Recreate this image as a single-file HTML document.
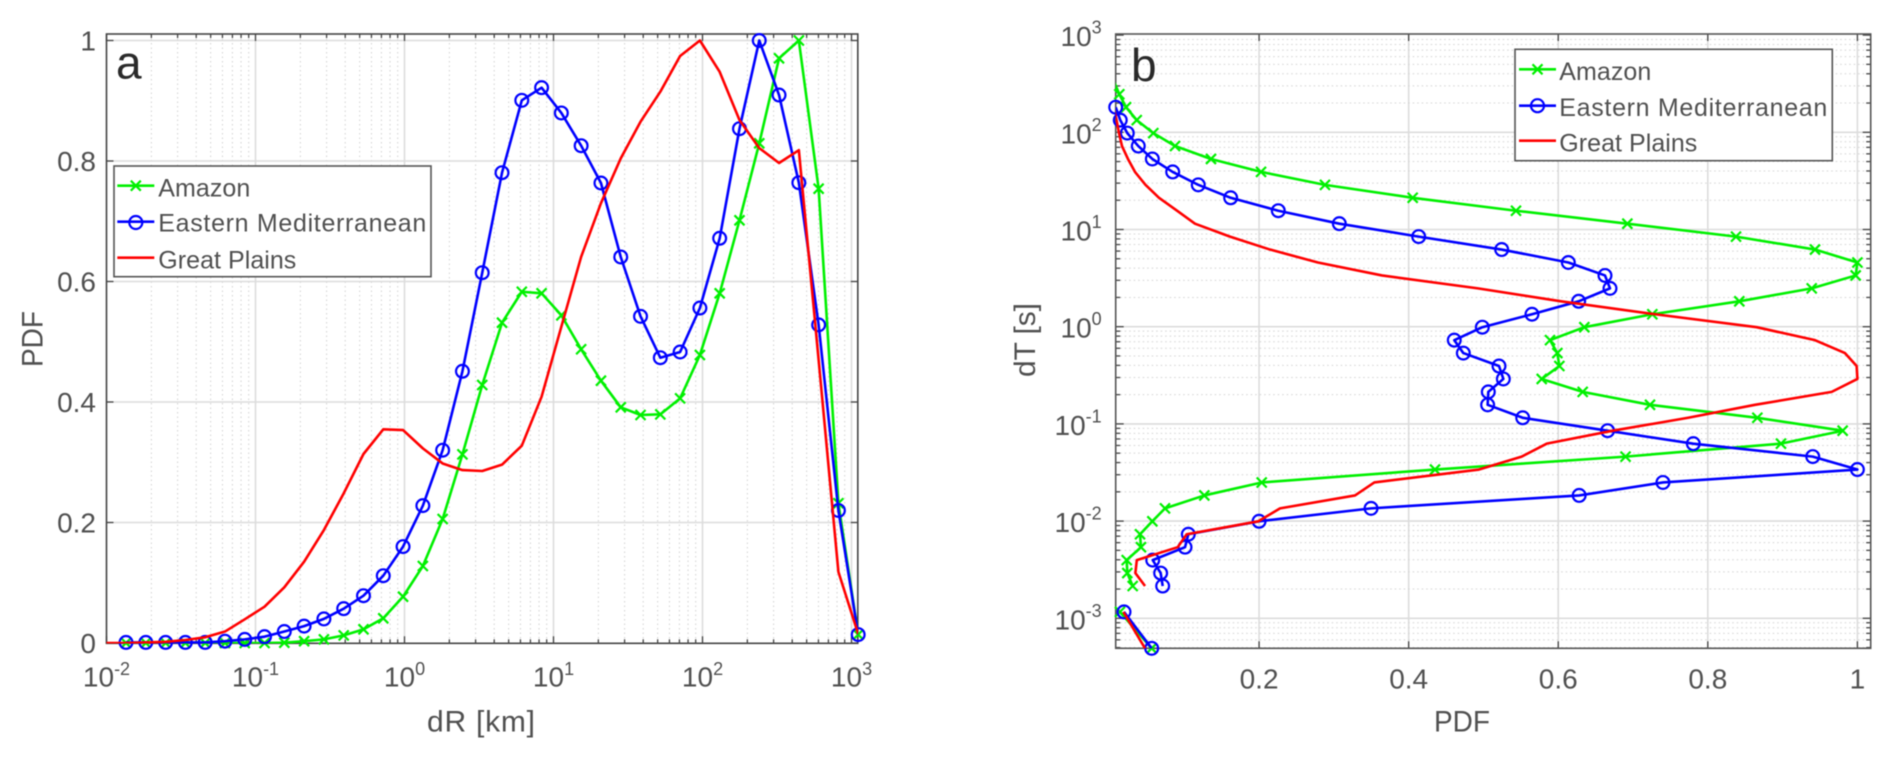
<!DOCTYPE html>
<html lang="en">
<head>
<meta charset="utf-8">
<title>PDF of dR and dT</title>
<style>
html,body{margin:0;padding:0;background:#fff;}
svg{display:block;font-family:"Liberation Sans",sans-serif;filter:blur(0.4px);}
.tick-label{font-size:28px;fill:#505050;}
.axis-title{font-size:30px;fill:#505050;}
.legend-text{font-size:25px;fill:#505050;}
.panel-letter{font-size:46px;fill:#2a2a2a;}
</style>
</head>
<body>
<svg id="fig" xmlns="http://www.w3.org/2000/svg" width="1892" height="757" viewBox="0 0 1892 757">
  <defs>
    <clipPath id="clipA"><rect x="106.5" y="34" width="751.5" height="609.5"/></clipPath>
    <clipPath id="clipB"><rect x="1115.7" y="34" width="755" height="614.5"/></clipPath>
  </defs>
  <g id="gridA"></g>
  <g id="gridB"></g>
  <g id="ticksA"></g>
  <g id="ticksB"></g>
  <rect x="106.5" y="34" width="751.3" height="609.3" fill="none" stroke="#444" stroke-width="1.6"/>
  <rect x="1115.7" y="34" width="755" height="614.3" fill="none" stroke="#555" stroke-width="1.6"/>
  <g id="seriesA"></g>
  <g id="seriesB"></g>
  <g id="labelsA"></g>
  <g id="labelsB"></g>

  <text class="panel-letter" x="116" y="78.5">a</text>
  <text class="panel-letter" x="1131" y="81">b</text>

  <text class="axis-title" x="427" y="731.5" textLength="108" lengthAdjust="spacing">dR [km]</text>
  <text class="axis-title" transform="translate(42.5,367) rotate(-90)" textLength="56" lengthAdjust="spacingAndGlyphs">PDF</text>
  <text class="axis-title" x="1434" y="731.5" textLength="56" lengthAdjust="spacingAndGlyphs">PDF</text>
  <text class="axis-title" transform="translate(1035,377) rotate(-90)" textLength="74" lengthAdjust="spacing">dT [s]</text>

  <g>
    <rect x="114" y="166" width="317" height="110.7" fill="#fff" stroke="#555" stroke-width="1.6"/>
    <g>
      <line x1="117.3" x2="154.3" y1="185.7" y2="185.7" stroke="#00f000" stroke-width="2.6"/>
      <path d="M130.8 180.7l10 10M130.8 190.7l10 -10" stroke="#00f000" stroke-width="2.2" fill="none"/>
      <text class="legend-text" x="158.3" y="196.7" textLength="92" lengthAdjust="spacing">Amazon</text>
    </g>
    <g>
      <line x1="117.3" x2="154.3" y1="221.7" y2="221.7" stroke="#0000ff" stroke-width="2.6"/>
      <circle cx="135.8" cy="222.5" r="6.5" fill="none" stroke="#0000ff" stroke-width="2.2"/>
      <text class="legend-text" x="158.3" y="231.7" textLength="268" lengthAdjust="spacing">Eastern Mediterranean</text>
    </g>
    <g>
      <line x1="117.3" x2="154.3" y1="257.7" y2="257.7" stroke="#ff0000" stroke-width="2.6"/>
      <text class="legend-text" x="158.3" y="268.3" textLength="138" lengthAdjust="spacing">Great Plains</text>
    </g>
  </g>

  <g>
    <rect x="1515" y="49.3" width="317.3" height="111.4" fill="#fff" stroke="#555" stroke-width="1.6"/>
    <g>
      <line x1="1519" x2="1556" y1="69.3" y2="69.3" stroke="#00f000" stroke-width="2.6"/>
      <path d="M1532.5 64.3l10 10M1532.5 74.3l10 -10" stroke="#00f000" stroke-width="2.2" fill="none"/>
      <text class="legend-text" x="1559.3" y="80" textLength="92" lengthAdjust="spacing">Amazon</text>
    </g>
    <g>
      <line x1="1519" x2="1556" y1="105.7" y2="105.7" stroke="#0000ff" stroke-width="2.6"/>
      <circle cx="1537.5" cy="105.7" r="6.5" fill="none" stroke="#0000ff" stroke-width="2.2"/>
      <text class="legend-text" x="1559.3" y="116" textLength="268" lengthAdjust="spacing">Eastern Mediterranean</text>
    </g>
    <g>
      <line x1="1519" x2="1556" y1="140.7" y2="140.7" stroke="#ff0000" stroke-width="2.6"/>
      <text class="legend-text" x="1559.3" y="151.7" textLength="138" lengthAdjust="spacing">Great Plains</text>
    </g>
  </g>
</svg>

<script>
// ---------- Panel a data ----------
const aXTickExponents = [-2, -1, 0, 1, 2, 3];
const aYTicks = [0, 0.2, 0.4, 0.6, 0.8, 1];
const aDR = [0.01352,0.01836,0.02493,0.03384,0.04595,0.06239,0.0847,0.115,0.1561,0.212,0.2878,0.3908,0.5306,0.7204,0.978,1.328,1.803,2.448,3.324,4.513,6.127,8.319,11.29,15.33,20.82,28.27,38.38,52.11,70.75,96.06,130.4,177.1,240.4,326.4,443.2,601.7,816.9,1109];
const aAmazon = [0,0,0,0,0,0,0,0,0.0005,0.003,0.006,0.0127,0.0227,0.041,0.0769,0.1278,0.2058,0.3131,0.4282,0.5316,0.583,0.5804,0.5439,0.4875,0.4354,0.3912,0.3784,0.3795,0.406,0.478,0.5804,0.7016,0.8294,0.9704,1,0.754,0.232,0.014];
const aEastMed = [0.001,0.001,0.001,0.001,0.001,0.003,0.006,0.0105,0.019,0.028,0.04,0.057,0.0785,0.1117,0.16,0.228,0.32,0.451,0.6146,0.7806,0.9007,0.9217,0.8797,0.8254,0.7635,0.6407,0.5422,0.4735,0.483,0.556,0.6717,0.8536,1,0.9095,0.764,0.528,0.22,0.014];
const aPlainsDR = [0.00996,0.01352,0.01836,0.02493,0.03384,0.04595,0.06239,0.0847,0.115,0.1561,0.212,0.2878,0.3908,0.5306,0.7204,0.978,1.328,1.803,2.448,3.324,4.513,6.127,8.319,11.29,15.33,20.82,28.27,38.38,52.11,70.75,96.06,130.4,177.1,240.4,326.4,443.2,601.7,816.9,1109];
const aPlains = [0,0,0.001,0.002,0.005,0.0095,0.019,0.0393,0.0603,0.0924,0.135,0.1875,0.2484,0.3137,0.3547,0.3535,0.323,0.298,0.287,0.2855,0.296,0.3275,0.4088,0.525,0.641,0.73,0.8044,0.8652,0.915,0.9743,1,0.948,0.868,0.8214,0.7967,0.818,0.47,0.118,0.015];

// ---------- Panel b data (null = gap in the curve) ----------
const bXTicks = [0.2, 0.4, 0.6, 0.8, 1];
const bYTickExponents = [-3, -2, -1, 0, 1, 2, 3];
const bDT = [0.000491,0.001164,0.00158,0.002148,0.00292,0.003968,0.005391,0.007323,0.009954,0.01352,0.01837,0.02497,0.03392,0.04608,0.06262,0.0851,0.1156,0.1571,0.2135,0.29,0.394,0.5353,0.7273,0.9883,1.343,1.825,2.479,3.368,4.576,6.219,8.45,11.48,15.6,21.2,28.8,39.13,53.17,72.23,98.13,133.4,181.2,246.2,334.5];
const bAmazon = [0.0564,0.014,null,0.031,0.0238,0.023,0.0421,0.0408,0.0573,0.0742,0.1268,0.2035,0.4352,0.69,0.8978,0.9803,0.8662,0.7227,0.6327,0.5779,0.6015,0.5988,0.589,0.6349,0.7258,0.8421,0.9389,0.9977,1,0.9433,0.8377,0.6924,0.5435,0.4054,0.2881,0.2026,0.1357,0.0876,0.0586,0.0364,0.0221,0.0131,0.006];
const bEastMed = [0.0564,0.0194,null,0.0711,0.0684,0.0578,0.101,0.1054,0.2,0.3497,0.628,0.74,1,0.9403,0.7806,0.666,0.5525,0.5056,0.5065,0.5266,0.5208,0.4731,0.461,0.4985,0.5649,0.6273,0.6692,0.6625,0.6135,0.5244,0.4134,0.3073,0.2257,0.162,0.1187,0.0845,0.0573,0.0385,0.0238,0.0144,0.0083];
const bPlains = [0.0475,0.0185,null,0.0475,0.0346,0.0365,0.0912,0.1032,0.199,0.228,0.3283,0.3541,0.4941,0.5511,0.5846,0.673,0.7737,0.8631,0.9656,1,0.999,0.9834,0.9433,0.8653,0.7296,0.6037,0.4927,0.3643,0.2787,0.2146,0.1611,0.1143,0.0903,0.0662,0.0481,0.0341,0.0247,0.0167,0.0127,0.0094,0.0055];

// ---------- Axis functions ----------
function xA(dr){ return 106.5 + 149 * (Math.log10(dr) + 2); }
function yA(v){ return 643 - 602.5 * v; }
function xB(v){ return 1109.5 + 747.9 * v; }
function yB(dt){ return 618.3 - 97.2 * (Math.log10(dt) + 3); }

const NS = 'http://www.w3.org/2000/svg';
function mk(tag, attrs, parent){
  const el = document.createElementNS(NS, tag);
  for (const k in attrs) el.setAttribute(k, attrs[k]);
  parent.appendChild(el);
  return el;
}
const gridA = document.getElementById('gridA');
const gridB = document.getElementById('gridB');
const ticksA = document.getElementById('ticksA');
const ticksB = document.getElementById('ticksB');
const labelsA = document.getElementById('labelsA');
const labelsB = document.getElementById('labelsB');
const seriesA = document.getElementById('seriesA');
const seriesB = document.getElementById('seriesB');

function gridLine(parent, x1, y1, x2, y2, minor){
  const el = mk('line', minor
    ? {x1, y1, x2, y2, stroke:'#d2d2d2', 'stroke-width':1, 'stroke-dasharray':'1.5 3'}
    : {x1, y1, x2, y2, stroke:'#dcdcdc', 'stroke-width':1.6}, parent);
  
  
}
function tickLine(parent, x1, y1, x2, y2){
  const el = mk('line', {x1, y1, x2, y2, stroke:'#444', 'stroke-width':1.3}, parent);
  
  
}

// ---------- Panel a axes ----------
const A = {l:106.5, r:857.8, t:34, b:643.3};
aXTickExponents.forEach(function(e){
  const x = xA(Math.pow(10, e));
  if (e > -2) { gridLine(gridA, x, A.t, x, A.b, false); }
  tickLine(ticksA, x, A.t, x, A.t + 7);
  tickLine(ticksA, x, A.b, x, A.b - 7);
  const t = mk('text', {class:'tick-label', x:x, y:686.7, 'text-anchor':'middle'}, labelsA);
  
  
  t.appendChild(document.createTextNode('10'));
  const s = mk('tspan', {'font-size':18, dy:-11.5}, t);
  s.textContent = String(e);
  if (e < 3) {
    for (let m = 2; m <= 9; m++) {
      const xm = xA(m * Math.pow(10, e));
      gridLine(gridA, xm, A.t, xm, A.b, true);
      tickLine(ticksA, xm, A.t, xm, A.t + 4);
      tickLine(ticksA, xm, A.b, xm, A.b - 4);
    }
  }
});
aYTicks.forEach(function(v){
  const y = yA(v);
  if (v > 0) { gridLine(gridA, A.l, y, A.r, y, false); }
  tickLine(ticksA, A.l, y, A.l + 7, y);
  tickLine(ticksA, A.r, y, A.r - 7, y);
  const t = mk('text', {class:'tick-label', x:96, y:y + 10, 'text-anchor':'end'}, labelsA);
  
  
  t.textContent = String(v);
});

// ---------- Panel b axes ----------
const B = {l:1115.7, r:1870.7, t:34, b:648.3};
bXTicks.forEach(function(v){
  const x = xB(v);
  gridLine(gridB, x, B.t, x, B.b, false);
  tickLine(ticksB, x, B.t, x, B.t + 7);
  tickLine(ticksB, x, B.b, x, B.b - 7);
  const t = mk('text', {class:'tick-label', x:x, y:688.3, 'text-anchor':'middle'}, labelsB);
  
  
  t.textContent = String(v);
});
bYTickExponents.forEach(function(e){
  const y = yB(Math.pow(10, e));
  if (e < 3) { gridLine(gridB, B.l, y, B.r, y, false); }
  tickLine(ticksB, B.l, y, B.l + 8, y);
  tickLine(ticksB, B.r, y, B.r - 8, y);
  const t = mk('text', {class:'tick-label', x:1101.7, y:y + 11, 'text-anchor':'end'}, labelsB);
  
  
  t.appendChild(document.createTextNode('10'));
  const s = mk('tspan', {'font-size':18, dy:-12.5}, t);
  s.textContent = String(e);
});
for (let e = -4; e < 3; e++) {
  for (let m = 2; m <= 9; m++) {
    const dt = m * Math.pow(10, e);
    const y = yB(dt);
    if (y > B.b || y < B.t) continue;
    gridLine(gridB, B.l, y, B.r, y, true);
    tickLine(ticksB, B.l, y, B.l + 4.5, y);
    tickLine(ticksB, B.r, y, B.r - 4.5, y);
  }
}

// ---------- Series drawing ----------
function pathFrom(pts){
  let d = '', pen = false;
  pts.forEach(function(p){
    if (!p) { pen = false; return; }
    d += (pen ? 'L' : 'M') + p[0].toFixed(2) + ' ' + p[1].toFixed(2);
    pen = true;
  });
  return d;
}
function drawSeries(parent, pts, color, marker, clipId, name, box){
  const g = mk('g', {}, parent);
  
  
  const line = mk('path', {d:pathFrom(pts), fill:'none', stroke:color, 'stroke-width':2.6, 'stroke-linejoin':'round', 'clip-path':'url(#' + clipId + ')'}, g);
  
  
  if (!marker) return;
  pts.forEach(function(p){
    if (!p) return;
    if (p[0] < box.l - 1 || p[0] > box.r + 1 || p[1] < box.t - 1 || p[1] > box.b + 2) return;
    let m;
    if (marker === 'circle') {
      m = mk('circle', {cx:p[0], cy:p[1], r:6.4, fill:'none', stroke:color, 'stroke-width':2.2}, g);
    } else {
      const r = 5;
      m = mk('path', {d:'M' + (p[0]-r) + ' ' + (p[1]-r) + 'L' + (p[0]+r) + ' ' + (p[1]+r) + 'M' + (p[0]-r) + ' ' + (p[1]+r) + 'L' + (p[0]+r) + ' ' + (p[1]-r), fill:'none', stroke:color, 'stroke-width':2.2}, g);
    }
    
    
  });
}
function ptsA(xs, vs){ return vs.map(function(v, i){ return v === null ? null : [xA(xs[i]), yA(v)]; }); }
function ptsB(vs){ return vs.map(function(v, i){ return v === null ? null : [xB(v), yB(bDT[i])]; }); }

drawSeries(seriesA, ptsA(aDR, aAmazon), '#00f000', 'cross', 'clipA', 'panel-a-amazon', A);
drawSeries(seriesA, ptsA(aDR, aEastMed), '#0000ff', 'circle', 'clipA', 'panel-a-eastern-mediterranean', A);
drawSeries(seriesA, ptsA(aPlainsDR, aPlains), '#ff0000', null, 'clipA', 'panel-a-great-plains', A);

drawSeries(seriesB, ptsB(bAmazon), '#00f000', 'cross', 'clipB', 'panel-b-amazon', B);
drawSeries(seriesB, ptsB(bEastMed), '#0000ff', 'circle', 'clipB', 'panel-b-eastern-mediterranean', B);
drawSeries(seriesB, ptsB(bPlains), '#ff0000', null, 'clipB', 'panel-b-great-plains', B);
</script>
</body>
</html>
